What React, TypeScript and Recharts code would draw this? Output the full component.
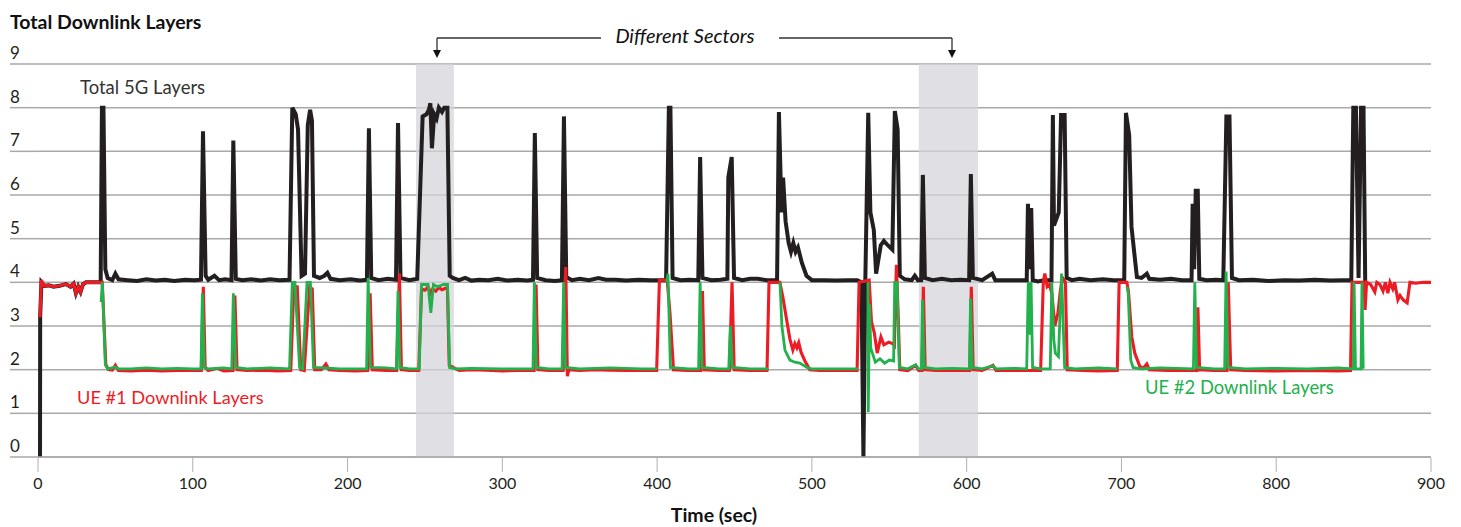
import React from "react";
import {
  LineChart,
  Line,
  XAxis,
  YAxis,
  CartesianGrid,
  ReferenceArea,
} from "recharts";

// [time (sec), layers]
const totalLayers: [number, number][] = [
  [1.3, 0], [1.4, 3.2], [2.2, 4.0], [4, 3.92], [7, 3.93], [10, 3.9], [14, 3.92], [18, 3.96], [21, 3.9], [23, 3.97], [24.5, 3.75], [26, 3.9], [27.5, 3.78], [29, 3.95], [31, 4.0], [40.5, 4.0],
  [41.3, 8.0], [42.3, 8.0], [43.5, 4.3], [45, 4.1], [48, 4.05], [50, 4.2], [52, 4.07], [58, 4.05], [64, 4.03], [70, 4.07], [76, 4.04], [82, 4.06], [88, 4.03], [95, 4.06], [101, 4.05], [105.3, 4.06],
  [106.6, 7.46], [108.3, 4.15], [110, 4.06], [114, 4.15], [117, 4.05], [121, 4.07], [125, 4.05],
  [126.2, 7.25], [127.8, 4.08], [132, 4.05], [138, 4.07], [144, 4.04], [150, 4.07], [156, 4.05], [162.5, 4.06],
  [164.3, 8.0], [166.5, 7.85], [168, 7.5], [170.3, 4.15], [172.5, 4.2], [174.3, 7.6], [175.8, 7.95], [177, 7.7], [178.3, 4.15], [182, 4.1], [185, 4.15], [187, 4.22], [189, 4.08], [195, 4.05], [202, 4.07], [208, 4.04], [212.5, 4.06],
  [213.8, 7.53], [215.3, 4.1], [220, 4.05], [226, 4.08], [231.3, 4.06],
  [232.6, 7.65], [234.2, 4.1], [240, 4.05], [245, 4.08],
  [248.5, 7.8], [251, 7.85], [252.5, 7.95], [253.5, 8.1], [254.5, 7.07], [256, 7.85], [257.5, 7.75], [259, 8.0], [261, 7.9], [262.5, 8.0], [264.5, 8.0], [266, 4.15], [268, 4.1], [272, 4.05], [276, 4.1], [280, 4.04], [285, 4.06], [291, 4.05], [297, 4.08], [303, 4.04], [310, 4.06], [316, 4.04], [319.8, 4.06],
  [321, 7.42], [322.5, 4.1], [328, 4.05], [334, 4.03], [338.5, 4.05],
  [339.8, 7.8], [341.3, 4.12], [345, 4.05], [350, 4.08], [356, 4.05], [362, 4.1], [367, 4.06], [373, 4.06], [380, 4.04], [388, 4.06], [396, 4.05], [402, 4.05], [405.8, 4.05],
  [407.6, 8.0], [408.6, 8.0], [410, 4.1], [415, 4.05], [421, 4.06], [426.6, 4.05],
  [427.8, 6.87], [429.3, 4.1], [435, 4.05], [441, 4.06], [445.4, 4.08],
  [446, 6.4], [448.2, 6.87], [449.7, 4.1], [455, 4.05], [460, 4.08], [465, 4.08], [471, 4.05], [477.5, 4.05],
  [478.7, 7.9], [480.4, 5.6], [481.4, 6.4], [483, 5.4], [485, 4.9], [486.5, 4.7], [488, 4.9], [489.5, 4.7], [491, 4.8], [493.5, 4.45], [496.5, 4.15], [500, 4.05], [508, 4.05], [516, 4.04], [523, 4.05], [529.3, 4.05],
  [532, 4.0], [533.3, 0], [534.5, 4.0],
  [536.4, 7.88], [537.8, 5.6], [540, 5.2], [541.5, 4.2], [544.5, 4.85], [546.5, 4.95], [549, 4.85], [552, 4.75],
  [553.6, 7.92], [555.4, 7.5], [556.8, 4.15], [560, 4.07], [564.5, 4.05], [566.5, 4.15], [568.5, 4.05], [570.6, 4.05],
  [571.7, 6.46], [573, 4.1], [578, 4.05], [584, 4.08], [590, 4.05], [596, 4.06], [601.6, 4.05],
  [602.7, 6.48], [604, 4.1], [610, 4.05], [616.5, 4.2], [618.5, 4.05], [626, 4.05], [633, 4.05], [638.8, 4.05],
  [639.6, 5.8], [640.5, 4.3], [641.7, 5.7], [642.7, 4.05], [646, 4.02], [650, 4.05], [654.8, 4.05],
  [655.7, 7.83], [656.4, 5.3], [659.5, 5.6], [661, 7.83], [663.3, 7.83], [664.6, 4.1], [668, 4.05], [673, 4.08], [680, 4.05], [688, 4.07], [695, 4.05], [701.8, 4.05],
  [702.9, 7.88], [705, 7.37], [706.5, 5.27], [708.3, 4.67], [710, 4.12], [713, 4.1], [716.4, 4.2], [718, 4.08], [725, 4.06], [732, 4.08], [739, 4.05], [745.3, 4.05],
  [746, 5.8], [747, 4.3], [748, 6.1], [749.3, 6.1], [750.3, 4.08], [755, 4.05], [761, 4.06], [765.8, 4.05],
  [767.8, 7.8], [769.8, 7.8], [771.4, 4.1], [776, 4.05], [785, 4.06], [795, 4.03], [805, 4.05], [815, 4.04], [825, 4.06], [835, 4.04], [843, 4.05], [848.5, 4.05],
  [849.8, 8.0], [851.5, 8.0], [853.2, 4.1], [854.8, 8.0], [856.4, 8.0], [857.5, 4.0],
];

const ue1Layers: [number, number][] = [
  [1.3, 3.2], [2.2, 4.05], [4, 3.92], [7, 3.93], [10, 3.9], [14, 3.92], [18, 3.96], [21, 3.9], [23, 3.97], [24.5, 3.75], [26, 3.9], [27.5, 3.78], [29, 3.95], [31, 4.0], [36, 4.0], [41.5, 4.0], [43.8, 2.12], [45.5, 2.0], [48, 1.99], [50, 2.1], [52, 1.98], [60, 1.97], [70, 1.99], [80, 1.97], [90, 1.98], [100, 1.98], [105.5, 1.98],
  [106.8, 3.9], [108, 2.06], [110, 1.98], [116, 2.03], [120, 1.97], [126, 1.98],
  [127.2, 3.7], [128.6, 2.0], [135, 1.98], [145, 1.99], [155, 1.97], [163.3, 1.98],
  [165.3, 3.9], [167.5, 3.9], [169.8, 2.0], [172, 1.98], [175.5, 3.9], [177.2, 3.85], [178.8, 2.0], [183, 2.0], [186, 2.13], [188, 2.0], [195, 1.98], [205, 1.97], [213, 1.98],
  [214.6, 3.75], [216, 2.0], [225, 1.98], [231.7, 1.98],
  [233.5, 4.2], [234.8, 2.0], [240, 1.98], [246, 1.98],
  [247.8, 3.85], [250, 3.82], [252, 3.9], [253.5, 3.75], [255, 3.85], [257, 3.8], [259, 3.88], [261, 3.83], [264.5, 3.88], [265.7, 2.1], [268, 2.06], [272, 1.98], [280, 2.0], [290, 1.99], [300, 1.97], [310, 1.98], [320.5, 1.98],
  [321.8, 3.95], [323, 2.0], [330, 1.98], [339.3, 1.98],
  [341, 4.35], [342, 1.85], [343, 2.0], [350, 1.98], [360, 2.0], [370, 1.99], [380, 1.98], [390, 1.98], [399.7, 1.98],
  [401.5, 4.05], [406.5, 4.05], [408.3, 3.3], [410.6, 2.0], [420, 1.98], [428.3, 1.98],
  [429.3, 3.8], [430.5, 2.0], [440, 1.98], [446.7, 1.98],
  [448.4, 4.0], [449.8, 2.0], [460, 1.98], [471, 1.98],
  [472.3, 4.0], [479.3, 4.0], [481.3, 3.65], [483.9, 3.1], [485.8, 2.7], [487.7, 2.45], [489, 2.6], [490.3, 2.5], [491.5, 2.62], [493, 2.4], [495.5, 2.2], [498.7, 2.0], [505, 1.98], [515, 1.98], [529.2, 1.98],
  [530.5, 4.0], [537, 4.05], [538.5, 3.1], [540.3, 2.85], [542.2, 2.38], [544.6, 2.75], [546.5, 2.57], [549.7, 2.63], [552, 2.6], [553.3, 2.55],
  [554.6, 4.4], [555.8, 3.2], [556.8, 2.0], [562, 1.98], [567, 2.1], [569, 1.98], [571.2, 1.98],
  [572, 3.9], [573.2, 2.0], [580, 1.98], [590, 1.98], [602, 1.98],
  [603, 3.9], [604.2, 2.0], [610, 1.98], [617, 2.1], [619, 1.98], [630, 1.98], [640, 1.98], [647.8, 1.98],
  [649.5, 4.0], [650.5, 4.2], [652, 3.9], [653.5, 3.95], [655, 3.75], [657, 3.0], [659, 3.3], [660.5, 3.8], [662, 4.1], [663.8, 4.0], [665, 2.0], [675, 1.98], [685, 1.97], [697.3, 1.98],
  [698.5, 4.0], [703.5, 4.0], [704.5, 3.8], [706.7, 2.75], [708.6, 2.38], [711.8, 2.08], [714, 2.03], [716.4, 2.13], [718, 2.0], [730, 1.98], [748.6, 1.98],
  [749.4, 3.43], [750.5, 2.0], [760, 1.98], [768.2, 1.98],
  [769, 4.0], [770.6, 2.0], [780, 1.98], [800, 1.97], [820, 1.98], [840, 1.97], [848, 1.98],
  [849, 4.0], [856.8, 4.0], [857.4, 3.37], [858.4, 4.0], [861, 3.95], [863.7, 3.78], [865, 4.0], [867, 3.95], [869, 3.8], [870.5, 4.0], [872.1, 3.75], [873.5, 4.0], [875.3, 3.85], [876.5, 4.0], [878.6, 3.6], [880, 3.7], [882, 3.6], [884.6, 3.53], [886.4, 4.0], [890, 3.98], [895, 4.0], [900, 4.0],
];

// null = no UE #2 report (line breaks)
const ue2Layers: [number, number | null][] = [
  [40.8, 3.55], [41.6, 4.0], [43.5, 2.11], [45, 2.02], [50, 2.06], [52, 2.02], [60, 2.02], [70, 2.04], [80, 2.02], [90, 2.03], [100, 2.02], [105.3, 2.02],
  [106.2, 3.75], [107.5, 2.05], [110, 2.02], [120, 2.04], [125.2, 2.02],
  [126.2, 3.75], [127.8, 2.05], [135, 2.02], [150, 2.04], [162.5, 2.02],
  [164.3, 4.0], [166, 4.0], [169, 2.05], [171, 2.02], [173.8, 4.0], [176, 4.0], [178, 2.05], [185, 2.04], [195, 2.02], [212.3, 2.02],
  [213.3, 4.1], [214.8, 2.05], [225, 2.04], [231.6, 2.02],
  [232.6, 3.8], [233.8, 2.05], [240, 2.02], [246.3, 2.02],
  [247.8, 3.95], [252, 3.95], [253.8, 3.3], [255.5, 3.95], [258, 3.9], [262, 3.95], [264.6, 3.95], [265.9, 2.05], [270, 2.02], [280, 2.03], [300, 2.02], [319.8, 2.02],
  [320.7, 4.0], [322, 2.05], [330, 2.02], [338.6, 2.02],
  [339.6, 4.0], [340.8, 2.05], [350, 2.02], [370, 2.04], [390, 2.02], [400, 2.02],
  [403, null],
  [406.2, 4.0], [407, 4.2], [408.6, 2.05], [420, 2.02], [426.8, 2.02],
  [427.8, 4.0], [429, 2.05], [440, 2.02], [446.3, 2.02],
  [447.3, 3.0], [448.6, 2.05], [460, 2.02], [472, 2.02],
  [475, null],
  [479.4, 4.0], [480.6, 3.0], [482.6, 2.45], [485.8, 2.22], [489, 2.17], [492.2, 2.15], [496.8, 2.05], [500, 2.02], [515, 2.02], [529.8, 2.02],
  [532, null],
  [536.2, 4.0], [536.4, 1.03], [537.3, 3.5], [538, 2.5], [541, 2.17], [544, 2.25], [547, 2.15], [550, 2.22], [552.8, 2.2],
  [553.5, 4.0], [555, 4.0], [556.5, 2.05], [562, 2.02], [567, 2.11], [569, 2.02], [570.8, 2.02],
  [571.5, 3.6], [572.6, 2.05], [580, 2.02], [590, 2.03], [601.8, 2.02],
  [602.5, 3.63], [603.6, 2.05], [610, 2.02], [617, 2.09], [619, 2.02], [630, 2.03], [638.8, 2.02],
  [639.8, 4.0], [640.8, 2.8], [641.6, 4.0], [642.6, 2.05], [648, 2.02], [654, 2.02],
  [655, 4.0], [656.3, 2.68], [657.3, 2.38], [659.3, 2.3], [661.3, 4.2], [663.3, 2.05], [670, 2.02], [685, 2.04], [697.3, 2.02],
  [700, null],
  [703.6, 3.9], [704.4, 3.75], [706, 2.22], [707.5, 2.05], [712, 2.02], [725, 2.04], [746.5, 2.02],
  [747.4, 4.0], [748.5, 2.05], [760, 2.02], [766.7, 2.02],
  [767.6, 4.25], [768.8, 2.05], [780, 2.02], [800, 2.03], [820, 2.02], [840, 2.04], [849.8, 2.02],
  [850.3, 4.0], [851.2, 2.02], [854.8, 2.02], [855.4, 4.0], [856.2, 2.02],
];

const sectorBands: [number, number][] = [
  [244.2, 268.7],
  [569.1, 607.3],
];

const xTicks = [0, 100, 200, 300, 400, 500, 600, 700, 800, 900];
const yTicks = [0, 1, 2, 3, 4, 5, 6, 7, 8, 9];

const toPoints = (rows: [number, number | null][]) => rows.map(([t, v]) => ({ t, v }));

const FONT = "Lato, 'Open Sans', sans-serif";
const GRID = "#a9a9a9";

const YTick = (props: any) => {
  const { y, payload } = props;
  return (
    <g>
      <line x1={10} x2={38} y1={y} y2={y} stroke={GRID} strokeWidth={1.5} />
      <text x={10} y={y - 5} fontSize={17} fill="#231f20" fontFamily={FONT}>
        {payload.value}
      </text>
    </g>
  );
};

const XTick = (props: any) => {
  const { x, payload } = props;
  return (
    <g>
      <line x1={x} x2={x} y1={458} y2={472} stroke="#b0b0b0" strokeWidth={1} />
      <text x={x} y={489} textAnchor="middle" fontSize={16} fill="#231f20" fontFamily={FONT}>
        {payload.value}
      </text>
    </g>
  );
};

export default function App() {
  return (
    <div style={{ position: "absolute", left: 0, top: 0, width: 1461, height: 527, background: "#fff" }}>
      <LineChart
        width={1461}
        height={527}
        margin={{ top: 64, right: 30, bottom: 40, left: 10 }}
      >
        {sectorBands.map(([a, b]) => (
          <ReferenceArea key={a} x1={a} x2={b} y1={0} y2={9} fill="#d2d2da" fillOpacity={0.72} stroke="none" />
        ))}
        <CartesianGrid vertical={false} stroke={GRID} strokeWidth={1.5} />
        <XAxis
          type="number"
          dataKey="t"
          domain={[0, 900]}
          ticks={xTicks}
          height={30}
          axisLine={{ stroke: GRID, strokeWidth: 1.5 }}
          tickLine={false}
          tick={<XTick />}
          interval={0}
        />
        <YAxis
          type="number"
          domain={[0, 9]}
          ticks={yTicks}
          width={28}
          axisLine={false}
          tickLine={false}
          tick={<YTick />}
          interval={0}
        />
        <Line
          data={toPoints(totalLayers)}
          dataKey="v"
          type="linear"
          stroke="#231f20"
          strokeWidth={4}
          dot={false}
          isAnimationActive={false}
          strokeLinejoin="miter"
        />
        <Line
          data={toPoints(ue1Layers)}
          dataKey="v"
          type="linear"
          stroke="#ed1c24"
          strokeWidth={3.1}
          dot={false}
          isAnimationActive={false}
        />
        <Line
          data={toPoints(ue2Layers)}
          dataKey="v"
          type="linear"
          stroke="#22b14c"
          strokeWidth={2.8}
          dot={false}
          connectNulls={false}
          isAnimationActive={false}
        />
      </LineChart>

      <svg
        width={1461}
        height={527}
        style={{ position: "absolute", left: 0, top: 0, pointerEvents: "none" }}
        fontFamily={FONT}
      >
        <text x={10} y={29} fontSize={19.5} fontWeight={700} fill="#111">
          Total Downlink Layers
        </text>
        <text x={80} y={94} fontSize={18.5} fill="#333">
          Total 5G Layers
        </text>
        <text x={77} y={404} fontSize={18.2} fill="#ed1c24">
          UE #1 Downlink Layers
        </text>
        <text x={1145} y={394} fontSize={18.4} fill="#22b14c">
          UE #2 Downlink Layers
        </text>
        <text x={714} y={522} fontSize={19.5} fontWeight={700} fill="#111" textAnchor="middle">
          Time (sec)
        </text>

        {/* different sectors bracket */}
        <text x={685} y={43} fontSize={20} fontStyle="italic" fill="#111" textAnchor="middle">
          Different Sectors
        </text>
        <path d="M437,38 H601 M779,38 H952" stroke="#333" strokeWidth={1.3} fill="none" />
        <path d="M437,38 V55 M952,38 V55" stroke="#333" strokeWidth={1.3} fill="none" />
        <path d="M433,50 L437,58 L441,50 Z M948,50 L952,58 L956,50 Z" fill="#111" />
      </svg>
    </div>
  );
}
